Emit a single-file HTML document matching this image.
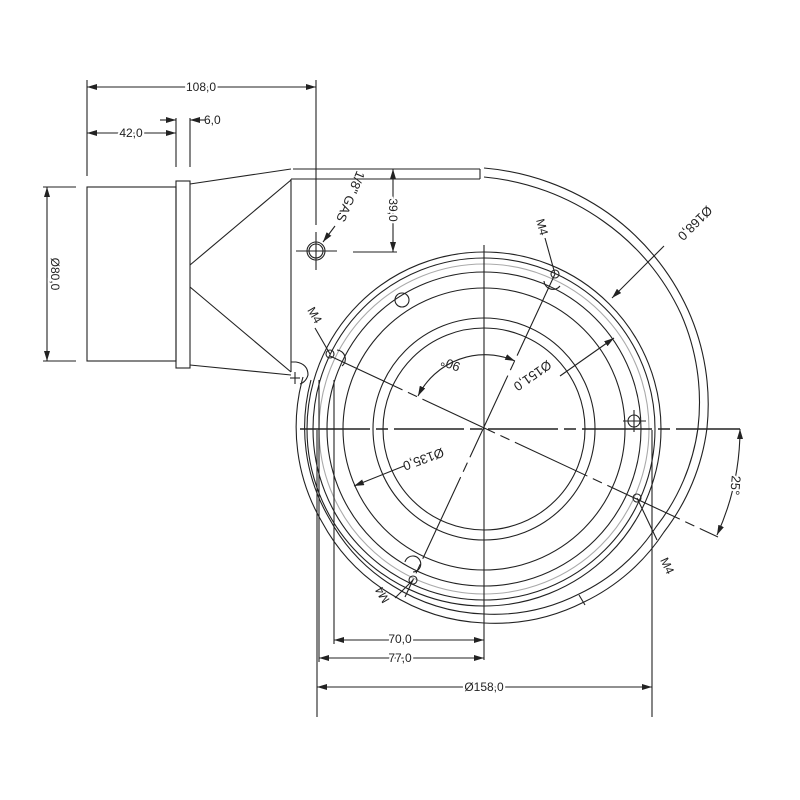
<!DOCTYPE html>
<html><head><meta charset="utf-8"><style>
html,body{margin:0;padding:0;background:#fff;}
svg{display:block;}
text{font-family:"Liberation Sans",sans-serif;font-size:12px;fill:#222;}
</style></head><body>
<svg width="800" height="800" viewBox="0 0 800 800" xmlns="http://www.w3.org/2000/svg">
<defs>
<marker id="a" viewBox="0 0 10 6" refX="10" refY="3" markerWidth="10" markerHeight="6" orient="auto-start-reverse" markerUnits="userSpaceOnUse"><path d="M0,0 L10,3 L0,6z" fill="#222"/></marker>
</defs>
<g fill="none" stroke="#222" stroke-width="1.1">
<rect x="87" y="187" width="89" height="174"/>
<rect x="176" y="181" width="14" height="187"/>
<line x1="190" y1="184" x2="291" y2="169"/>
<line x1="190" y1="365" x2="291" y2="375"/>
<line x1="190" y1="265" x2="291" y2="180"/>
<line x1="190" y1="287" x2="291" y2="372"/>
<line x1="291" y1="179" x2="291" y2="372"/>
<line x1="293" y1="169" x2="480" y2="169"/>
<line x1="291" y1="179" x2="480" y2="179"/>
<line x1="480" y1="169" x2="480" y2="179"/>
<path d="M291,362 L296,362 Q308,364 308,375 Q306,382 300,384"/>
<line x1="290" y1="378" x2="300" y2="378"/>
<line x1="295" y1="372" x2="295" y2="384"/>
<circle cx="316" cy="251" r="9"/>
<circle cx="316" cy="251" r="7"/>
<line x1="296" y1="251" x2="337" y2="251"/>
<line x1="316" y1="232" x2="316" y2="270"/>
<path d="M484,168 A254,254 0 0 1 608,213 A242,242 0 0 1 688,310 A230,230 0 0 1 707,428 A215,215 0 0 1 664,532 A197,197 0 0 1 584,602 A197,197 0 0 1 484,623 A192,192 0 0 1 389,593 A188,188 0 0 1 322,522 A187,187 0 0 1 303,377"/>
<path d="M484,177 A245,245 0 0 1 603,221 A233,233 0 0 1 681,314 A220,220 0 0 1 698,428 A206,206 0 0 1 656,527 A188,188 0 0 1 579,594 A188,188 0 0 1 484,614 A183,183 0 0 1 393,586 A180,180 0 0 1 329,518 A180,180 0 0 1 311,380"/>
<line x1="579" y1="595" x2="585" y2="605"/>
<circle cx="484" cy="429" r="101"/>
<circle cx="484" cy="429" r="111"/>
<circle cx="484" cy="429" r="141"/>
<circle cx="484" cy="429" r="157"/>
<circle cx="484" cy="429" r="165" stroke="#aaa"/>
<circle cx="484" cy="429" r="171"/>
<circle cx="484" cy="429" r="177"/>
<circle cx="402" cy="300" r="7"/>
<path d="M405,562 a8,8 0 1 1 8,10"/>
<circle cx="555" cy="274" r="4"/>
<circle cx="330" cy="354" r="4"/>
<circle cx="637" cy="498" r="4"/>
<circle cx="413" cy="580" r="4"/>
<path d="M544,281 a9,9 0 0 0 16,5"/>
<path d="M337,350 a9,9 0 0 1 5,16"/>
<circle cx="634" cy="421" r="6"/>
<line x1="623" y1="421" x2="646" y2="421"/>
<line x1="634" y1="410" x2="634" y2="432"/>
<line x1="300" y1="429" x2="740" y2="429" stroke-dasharray="70,6,12,6" stroke-width="1.4"/>
<line x1="484" y1="245" x2="484" y2="660"/>
<line x1="330" y1="356" x2="718" y2="537" stroke-dasharray="80,6,10,6"/>
<line x1="555" y1="274" x2="405" y2="597" stroke-dasharray="90,6,10,6"/>
<path d="M418,396 A75,75 0 0 1 515,361" marker-start="url(#a)" marker-end="url(#a)"/>
<path d="M740,429 A256,256 0 0 1 717,535" marker-start="url(#a)" marker-end="url(#a)"/>
<line x1="87" y1="80" x2="87" y2="176"/>
<line x1="316" y1="80" x2="316" y2="225"/>
<line x1="87" y1="87" x2="316" y2="87" marker-start="url(#a)" marker-end="url(#a)"/>
<line x1="176" y1="118" x2="176" y2="167"/>
<line x1="190" y1="118" x2="190" y2="167"/>
<line x1="87" y1="133" x2="176" y2="133" marker-start="url(#a)" marker-end="url(#a)"/>
<line x1="160" y1="120" x2="176" y2="120" marker-end="url(#a)"/>
<line x1="205" y1="120" x2="190" y2="120" marker-end="url(#a)"/>
<line x1="43" y1="187" x2="76" y2="187"/>
<line x1="43" y1="361" x2="76" y2="361"/>
<line x1="47" y1="187" x2="47" y2="361" marker-start="url(#a)" marker-end="url(#a)"/>
<line x1="353" y1="252" x2="397" y2="252"/>
<line x1="393" y1="169" x2="393" y2="252" marker-start="url(#a)" marker-end="url(#a)"/>
<line x1="323" y1="242" x2="335" y2="226" marker-start="url(#a)"/>
<line x1="317" y1="430" x2="317" y2="717"/>
<line x1="652" y1="430" x2="652" y2="717"/>
<line x1="319" y1="380" x2="319" y2="662"/>
<line x1="334" y1="380" x2="334" y2="644"/>
<line x1="317" y1="687" x2="652" y2="687" marker-start="url(#a)" marker-end="url(#a)"/>
<line x1="319" y1="658" x2="484" y2="658" marker-start="url(#a)" marker-end="url(#a)"/>
<line x1="334" y1="640" x2="484" y2="640" marker-start="url(#a)" marker-end="url(#a)"/>
<line x1="612" y1="298" x2="664" y2="246" marker-start="url(#a)"/>
<line x1="614" y1="338" x2="560" y2="376" marker-start="url(#a)"/>
<line x1="354" y1="486" x2="404" y2="466" marker-start="url(#a)"/>
<line x1="555" y1="274" x2="545" y2="238"/>
<line x1="330" y1="354" x2="315" y2="328"/>
<line x1="637" y1="498" x2="657" y2="540"/>
<line x1="413" y1="580" x2="395" y2="598"/>
</g>
<g>
<text x="201" y="91" text-anchor="middle" style="paint-order:stroke" stroke="#fff" stroke-width="4">108,0</text>
<text x="131" y="137" text-anchor="middle" style="paint-order:stroke" stroke="#fff" stroke-width="4">42,0</text>
<text x="204" y="124">6,0</text>
<text transform="translate(51,274) rotate(90)" text-anchor="middle" style="paint-order:stroke" stroke="#fff" stroke-width="4">Ø80,0</text>
<text transform="translate(389,210) rotate(90)" text-anchor="middle" style="paint-order:stroke" stroke="#fff" stroke-width="4">39,0</text>
<text transform="translate(357,170) rotate(113)" style="font-size:13px">1/8" GAS</text>
<text transform="translate(400,643)" text-anchor="middle" style="paint-order:stroke" stroke="#fff" stroke-width="4">70,0</text>
<text transform="translate(400,662)" text-anchor="middle" style="paint-order:stroke" stroke="#fff" stroke-width="4">77,0</text>
<text transform="translate(484,691)" text-anchor="middle" style="paint-order:stroke" stroke="#fff" stroke-width="4">Ø158,0</text>
<text transform="translate(707,205) rotate(135)" style="font-size:13px">Ø168,0</text>
<text transform="translate(530,372) rotate(145)" text-anchor="middle" style="font-size:13px">Ø151,0</text>
<text transform="translate(422,455) rotate(160)" text-anchor="middle" style="font-size:13px">Ø135,0</text>
<text transform="translate(452,360) rotate(200)" text-anchor="middle" style="font-size:13px">90°</text>
<text transform="translate(731,485) rotate(95)" text-anchor="middle" style="paint-order:stroke;font-size:13px" stroke="#fff" stroke-width="4">25°</text>
<text transform="translate(536,220) rotate(75)">M4</text>
<text transform="translate(307,310) rotate(60)">M4</text>
<text transform="translate(660,560) rotate(65)">M4</text>
<text transform="translate(390,600) rotate(240)">M4</text>
</g>
</svg>
</body></html>
